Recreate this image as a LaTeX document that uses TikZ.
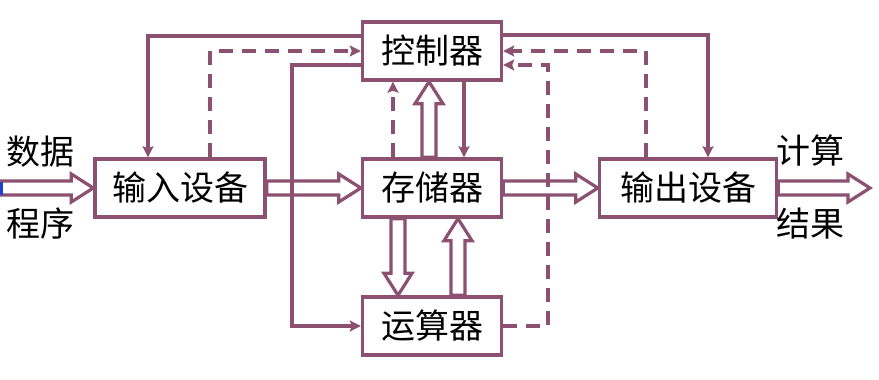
\documentclass[tikz,border=0pt]{standalone}
\usepackage{fontspec}
\newfontfamily\cjk{Noto Sans CJK SC}
\usetikzlibrary{positioning,arrows.meta,calc}
\definecolor{LineMauve}{HTML}{8C5070}
\definecolor{MarkBlue}{HTML}{2040D0}

%% hollow block arrow from #1 to #2
\newcommand{\fatarrow}[2]{%
  \path (#1) coordinate (fa-s) (#2) coordinate (fa-e);
  \path ($(fa-e)!22pt!(fa-s)$) coordinate (fa-b);
  \draw[fat] ($(fa-s)!7pt!90:(fa-e)$) -- ($(fa-b)!7pt!90:(fa-e)$)
    -- ($(fa-b)!14pt!90:(fa-e)$) -- (fa-e)
    -- ($(fa-b)!14pt!-90:(fa-e)$) -- ($(fa-b)!7pt!-90:(fa-e)$)
    -- ($(fa-s)!7pt!-90:(fa-e)$) -- cycle;
}

\begin{document}
\begin{tikzpicture}[
  x=1pt, y=-1pt,
  every node/.style={font=\cjk\fontsize{34}{38}\selectfont},
  unit/.style={rectangle, draw=LineMauve, line width=3.4pt, fill=white, minimum height=58pt, inner sep=0pt},
  fat/.style={draw=LineMauve, line width=3.2pt, line join=miter},
  sig/.style={draw=LineMauve, line width=3.5pt, -{Stealth[length=11pt,width=11pt,inset=2pt]}},
  sigd/.style={sig, dash pattern=on 14pt off 9pt}
]
\useasboundingbox (0,0) rectangle (879,380);

%% units
\node[unit, minimum width=139pt] (ctl) at (432,51)  {控制器};
\node[unit, minimum width=139pt] (mem) at (432,188) {存储器};
\node[unit, minimum width=139pt] (alu) at (432,326) {运算器};
\node[unit, minimum width=170pt] (inp) at (180,188) {输入设备};
\node[unit, minimum width=177pt] (out) at (688,188) {输出设备};

%% outside labels and free ends
\node (data) at (40,152) {数据};
\node (prog) at (40,224) {程序};
\node (calc) at (810,151) {计算};
\node (res)  at (810,224) {结果};
\coordinate (datain) at (0,188);
\coordinate (resout) at (870,188);

%% data flow (hollow arrows)
\fatarrow{datain}{inp.west}
\fill[MarkBlue] (0,182) rectangle (3,195);
\fatarrow{inp.east}{mem.west}
\fatarrow{mem.east}{out.west}
\fatarrow{out.east}{resout}
\fatarrow{[xshift=-3pt]mem.north}{[xshift=-3pt]ctl.south}
\fatarrow{[xshift=-34pt]mem.south}{[xshift=-34pt]alu.north}
\fatarrow{[xshift=26pt]alu.north}{[xshift=26pt]mem.south}

%% control signals (solid) and feedback (dashed)
\draw[sig] ([yshift=15pt]ctl.west) -| ([xshift=-32pt]inp.north);
\draw[sigd] ([xshift=30pt]inp.north) |- (ctl.west);
\draw[sig] ([yshift=-14pt]ctl.west) -- ++(-69,0) |- (alu.west);
\draw[sig] ([yshift=16pt]ctl.east) -| ([xshift=20pt]out.north);
\draw[sigd] ([xshift=-42pt]out.north) |- (ctl.east);
\draw[sigd] (alu.east) -- ++(45,0) |- ([yshift=-14pt]ctl.east);
\draw[sigd] ([xshift=-39pt]mem.north) -- ([xshift=-39pt]ctl.south);
\draw[sig] ([xshift=32pt]ctl.south) -- ([xshift=32pt]mem.north);
\end{tikzpicture}
\end{document}
